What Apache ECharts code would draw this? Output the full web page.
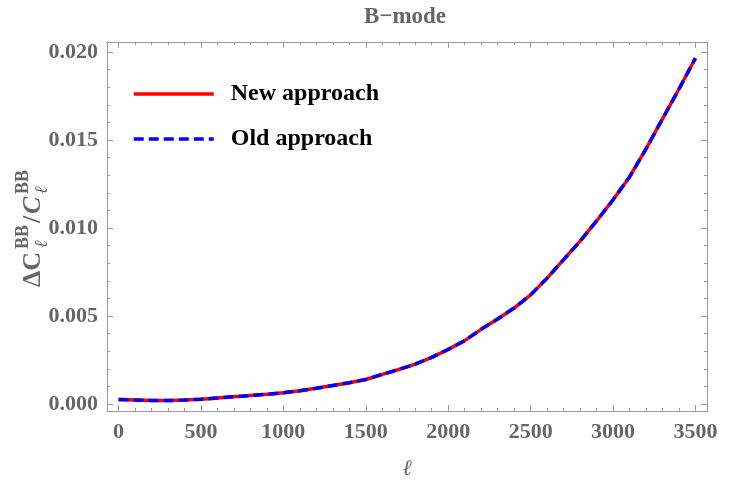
<!DOCTYPE html>
<html>
<head>
<meta charset="utf-8">
<script src="https://cdn.jsdelivr.net/npm/echarts@6/dist/echarts.min.js"></script>
<style>html,body{margin:0;padding:0;background:#fff}#c{width:750px;height:490px}</style>
</head>
<body>
<div id="c"></div>
<script>
// ---- data ----
var ells = [0,100,200,300,400,500,600,700,800,900,1000,1100,1200,1300,1400,1500,1600,1700,1800,1900,2000,2100,2200,2300,2400,2500,2600,2700,2800,2900,3000,3100,3200,3300,3400,3500];
var newApproach = [0.00025,0.00023,0.00020,0.00019,0.00022,0.00027,0.00034,0.00041,0.00048,0.00055,0.00064,0.00075,0.00089,0.00105,0.00121,0.00139,0.00168,0.00196,0.00226,0.00265,0.00310,0.00360,0.00424,0.00483,0.00545,0.00620,0.00715,0.00820,0.00925,0.01040,0.01160,0.01290,0.01450,0.01620,0.01790,0.01965];
var oldApproach = [0.00025,0.00023,0.00020,0.00019,0.00022,0.00027,0.00034,0.00041,0.00048,0.00055,0.00064,0.00075,0.00089,0.00105,0.00121,0.00139,0.00168,0.00196,0.00226,0.00265,0.00310,0.00360,0.00424,0.00483,0.00545,0.00620,0.00715,0.00820,0.00925,0.01040,0.01160,0.01290,0.01450,0.01620,0.01790,0.01965];
var seriesNames = ['New approach','Old approach'];
var titleText = 'B\u2212mode';
var xName = '\u2113';
var xRange = [-70, 3570];
var yRange = [-0.0004, 0.02057];

var FONT = 'Liberation Serif';
var FRAME = '#999999';
var LBL = '#666666';

function pairs(xs, ys){ return xs.map(function(x,i){ return [x, ys[i]]; }); }
function isMult(v, step){ var n = Number(v)/step; return Math.abs(n-Math.round(n))<1e-6; }

function xAx(pos, split, len, labels){
  var a = {
    type:'value', position:pos, min:xRange[0], max:xRange[1], splitNumber:split,
    axisLine:{show:true, onZero:false, lineStyle:{color:FRAME, width:1}},
    axisTick:{show:true, inside:true, length:len, lineStyle:{color:FRAME, width:1}},
    splitLine:{show:false},
    axisLabel:{show:labels, color:LBL, fontFamily:FONT, fontWeight:'bold', fontSize:22, margin:10,
      showMinLabel:true, showMaxLabel:true,
      formatter:function(v){ return isMult(v,500) ? String(Math.round(Number(v))) : ''; }}
  };
  if (labels) {
    a.name = xName; a.nameLocation = 'middle'; a.nameGap = 47;
    a.nameTextStyle = {color:LBL, fontFamily:FONT, fontStyle:'italic', fontSize:22};
  }
  return a;
}
function yAx(pos, split, len, labels){
  return {
    type:'value', position:pos, min:yRange[0], max:yRange[1], splitNumber:split,
    axisLine:{show:true, onZero:false, lineStyle:{color:FRAME, width:1}},
    axisTick:{show:true, inside:true, length:len, lineStyle:{color:FRAME, width:1}},
    splitLine:{show:false},
    axisLabel:{show:labels, color:LBL, fontFamily:FONT, fontWeight:'bold', fontSize:22, margin:9,
      formatter:function(v){ return isMult(v,0.005) ? Number(v).toFixed(3) : ''; }}
  };
}

var chart = echarts.init(document.getElementById('c'), null, {renderer:'canvas'});
chart.setOption({
  backgroundColor:'#ffffff',
  animation:false,
  title:{text:titleText, left:400, top:1, textAlign:'center',
    textStyle:{color:LBL, fontFamily:FONT, fontWeight:'bold', fontSize:23}},
  grid:{left:107, right:43, top:42, bottom:79, containLabel:false},
  xAxis:[ xAx('bottom',7,6,true), xAx('top',7,6,false), xAx('bottom',36,3,false), xAx('top',36,3,false) ],
  yAxis:[ yAx('left',4,6,true), yAx('right',4,6,false), yAx('left',20,3,false), yAx('right',20,3,false) ],
  legend:{
    orient:'vertical', left:132, top:82, padding:0, itemWidth:80, itemHeight:22, itemGap:21,
    data:seriesNames, itemStyle:{opacity:0}, lineStyle:{width:3.5},
    textStyle:{color:'#000', fontFamily:FONT, fontWeight:'bold', fontSize:24, padding:[0,0,0,12]}
  },
  series:[
    {name:seriesNames[0], type:'line', xAxisIndex:0, yAxisIndex:0, data:pairs(ells,newApproach),
      symbol:'none', lineStyle:{color:'#ff0000', width:3.5}, itemStyle:{color:'#ff0000'}, z:2},
    {name:seriesNames[1], type:'line', xAxisIndex:0, yAxisIndex:0, data:pairs(ells,oldApproach),
      symbol:'none', lineStyle:{color:'#0000ff', width:3.5, type:[10,5]}, itemStyle:{color:'#0000ff'}, z:3}
  ],
  graphic:[{
    type:'group', x:44, y:287, rotation:Math.PI/2,
    children:[
      {type:'text', x:0, y:2, style:{text:'\u0394C', fontFamily:FONT, fontWeight:'bold', fontSize:26, fill:LBL, verticalAlign:'bottom'}},
      {type:'text', x:38, y:-12, style:{text:'BB', fontFamily:FONT, fontWeight:'bold', fontSize:18, fill:LBL, verticalAlign:'bottom'}},
      {type:'text', x:39, y:7, style:{text:'\u2113', fontFamily:FONT, fontStyle:'italic', fontSize:18, fill:LBL, verticalAlign:'bottom'}},
      {type:'text', x:64, y:2, style:{text:'/', fontFamily:FONT, fontWeight:'bold', fontSize:26, fill:LBL, verticalAlign:'bottom'}},
      {type:'text', x:73, y:2, style:{text:'C', fontFamily:FONT, fontWeight:'bold', fontStyle:'italic', fontSize:26, fill:LBL, verticalAlign:'bottom'}},
      {type:'text', x:93, y:-12, style:{text:'BB', fontFamily:FONT, fontWeight:'bold', fontSize:18, fill:LBL, verticalAlign:'bottom'}},
      {type:'text', x:93, y:7, style:{text:'\u2113', fontFamily:FONT, fontStyle:'italic', fontSize:18, fill:LBL, verticalAlign:'bottom'}}
    ]
  }]
});
</script>
</body>
</html>
